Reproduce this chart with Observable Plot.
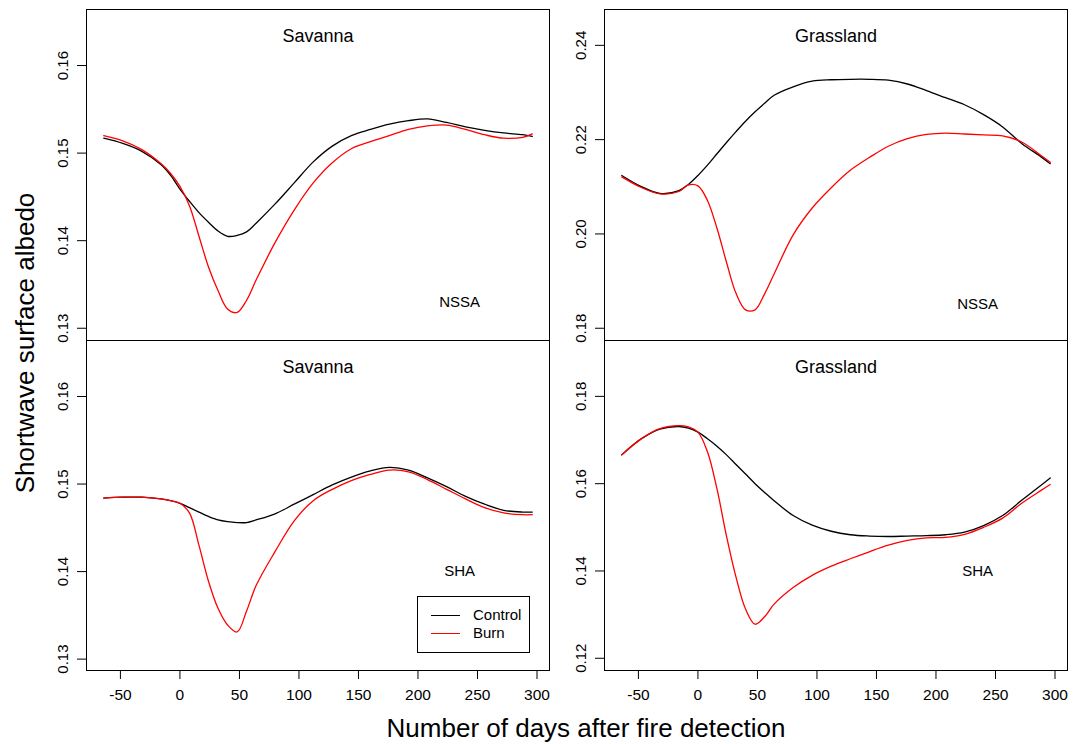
<!DOCTYPE html>
<html>
<head>
<meta charset="utf-8">
<script src="https://cdn.jsdelivr.net/npm/d3@7"></script>
<script src="https://cdn.jsdelivr.net/npm/@observablehq/plot@0.6"></script>
<style>
  html, body { margin: 0; padding: 0; background: white; }
  #wrap { position: relative; width: 1078px; height: 744px; font-family: "Liberation Sans", Arial, Helvetica, sans-serif; color: black; overflow: hidden; }
  .panel { position: absolute; }
  .abs { position: absolute; white-space: nowrap; }
</style>
</head>
<body>
<div id="wrap"></div>
<script>
// Days after fire detection (shared x values)
const days = [-64,-48,-32,-16,-8,0,8,16,24,32,40,48,56,64,80,96,112,128,144,160,176,192,208,224,240,256,272,288,296];

// Savanna, NSSA
const savNssaControl = [0.1517,0.1511,0.1502,0.1487,0.1475,0.1459,0.1445,0.1432,0.1421,0.1411,0.1405,0.1406,0.1410,0.1420,0.1442,0.1466,0.1490,0.1508,0.1520,0.1527,0.1533,0.1537,0.1539,0.1535,0.1530,0.1526,0.1523,0.1521,0.1519];
const savNssaBurn    = [0.1520,0.1514,0.1504,0.1488,0.1477,0.1462,0.1440,0.1405,0.1370,0.1343,0.1322,0.1318,0.1332,0.1355,0.1398,0.1435,0.1466,0.1489,0.1505,0.1513,0.1520,0.1527,0.1531,0.1532,0.1527,0.1521,0.1517,0.1518,0.1522];

// Grassland, NSSA
const grsNssaControl = [0.2124,0.2101,0.2086,0.2092,0.2105,0.2124,0.2146,0.2170,0.2194,0.2217,0.2239,0.2259,0.2277,0.2294,0.2312,0.2324,0.2327,0.2328,0.2328,0.2326,0.2318,0.2304,0.2289,0.2274,0.2253,0.2227,0.2192,0.2164,0.2149];
const grsNssaBurn    = [0.2121,0.2099,0.2085,0.2090,0.2104,0.2102,0.2071,0.2012,0.1940,0.1874,0.1839,0.1839,0.1873,0.1915,0.1998,0.2055,0.2098,0.2135,0.2162,0.2186,0.2202,0.2211,0.2214,0.2212,0.2210,0.2208,0.2195,0.2167,0.2152];

// Savanna, SHA
const savShaControl = [0.1484,0.1485,0.1485,0.1483,0.1481,0.1478,0.1473,0.1468,0.1463,0.1459,0.1457,0.1456,0.1456,0.1459,0.1466,0.1477,0.1488,0.1499,0.1508,0.1515,0.1519,0.1516,0.1507,0.1497,0.1486,0.1477,0.1470,0.1468,0.1468];
const savShaBurn    = [0.1484,0.1485,0.1485,0.1483,0.1481,0.1478,0.1467,0.1430,0.1389,0.1358,0.1339,0.1331,0.1355,0.1384,0.1423,0.1458,0.1481,0.1494,0.1504,0.1511,0.1516,0.1514,0.1505,0.1494,0.1483,0.1473,0.1467,0.1465,0.1465];

// Grassland, SHA
const grsShaControl = [0.1666,0.1702,0.1725,0.1731,0.1727,0.1718,0.1703,0.1686,0.1666,0.1644,0.1622,0.1600,0.1580,0.1561,0.1527,0.1505,0.1491,0.1483,0.1480,0.1479,0.1480,0.1481,0.1483,0.1489,0.1504,0.1527,0.1562,0.1596,0.1613];
const grsShaBurn    = [0.1666,0.1702,0.1726,0.1733,0.1730,0.1718,0.1673,0.1588,0.1480,0.1386,0.1313,0.1278,0.1295,0.1324,0.1362,0.1390,0.1411,0.1428,0.1444,0.1459,0.1470,0.1476,0.1477,0.1484,0.1500,0.1521,0.1555,0.1584,0.1598];

// Tick values / labels
const xTicks = [-50,0,50,100,150,200,250,300];
const xTickLabels = ["-50","0","50","100","150","200","250","300"];
const savYTicks = [0.13,0.14,0.15,0.16];
const savYLabels = ["0.13","0.14","0.15","0.16"];
const grsNssaYTicks = [0.18,0.20,0.22,0.24];
const grsNssaYLabels = ["0.18","0.20","0.22","0.24"];
const grsShaYTicks = [0.12,0.14,0.16,0.18];
const grsShaYLabels = ["0.12","0.14","0.16","0.18"];

const panelTitles = ["Savanna","Grassland","Savanna","Grassland"];
const regionLabels = ["NSSA","NSSA","SHA","SHA"];
const seriesNames = ["Control","Burn"];
const seriesColors = ["#000000","#FF0000"];

const FONT = '"Liberation Sans", Arial, Helvetica, sans-serif';
const wrap = document.getElementById("wrap");

function panel(o) {
  const marks = [
    Plot.frame({stroke: "black", strokeWidth: 1}),
    Plot.line(days, {x: d => d, y: (d, i) => o.control[i], stroke: seriesColors[0], strokeWidth: 1.3, curve: "catmull-rom"}),
    Plot.line(days, {x: d => d, y: (d, i) => o.burn[i], stroke: seriesColors[1], strokeWidth: 1.3, curve: "catmull-rom"}),
    Plot.axisY({ticks: o.yTicks, tickSize: 9, tickFormat: () => "", label: null, stroke: "black"}),
    Plot.text(o.yTicks, {y: d => d, text: (d, i) => o.yLabels[i], frameAnchor: "left", dx: -23, rotate: -90, textAnchor: "middle", lineAnchor: "middle", fontSize: 15, fill: "black"}),
    Plot.text([o.title], {frameAnchor: "top", dy: 27, lineAnchor: "middle", fontSize: 18, fill: "black"}),
    Plot.text([o.region], {x: () => 235, y: () => o.regionY, lineAnchor: "middle", fontSize: 15, fill: "black"})
  ];
  if (o.showX) {
    marks.push(Plot.axisX({ticks: xTicks, tickSize: 9, tickFormat: () => "", label: null, stroke: "black"}));
    marks.push(Plot.text(xTicks, {x: d => d, text: (d, i) => xTickLabels[i], frameAnchor: "bottom", dy: 25, lineAnchor: "middle", fontSize: 15.5, fill: "black"}));
  }
  const chart = Plot.plot({
    width: o.w, height: o.h,
    marginLeft: o.mL, marginRight: o.mR, marginTop: o.mT, marginBottom: o.mB,
    style: {background: "transparent", overflow: "visible", fontFamily: FONT},
    x: {domain: [-78.5, 310.5], axis: o.showX ? undefined : null},
    y: {domain: o.yDomain},
    marks
  });
  chart.classList.add("panel");
  chart.style.left = o.left + "px";
  chart.style.top = o.top + "px";
  chart.style.position = "absolute";
  wrap.appendChild(chart);
}

panel({control: savNssaControl, burn: savNssaBurn, yDomain: [0.1286, 0.1664], yTicks: savYTicks, yLabels: savYLabels,
  title: panelTitles[0], region: regionLabels[0], regionY: 0.133, showX: false,
  left: 0, top: 0, w: 560, h: 345, mL: 86, mR: 11, mT: 9, mB: 5});
panel({control: grsNssaControl, burn: grsNssaBurn, yDomain: [0.1774, 0.2476], yTicks: grsNssaYTicks, yLabels: grsNssaYLabels,
  title: panelTitles[1], region: regionLabels[1], regionY: 0.185, showX: false,
  left: 560, top: 0, w: 518, h: 345, mL: 44, mR: 11, mT: 9, mB: 5});
panel({control: savShaControl, burn: savShaBurn, yDomain: [0.1287, 0.1664], yTicks: savYTicks, yLabels: savYLabels,
  title: panelTitles[2], region: regionLabels[2], regionY: 0.140, showX: true,
  left: 0, top: 335, w: 560, h: 375, mL: 86, mR: 11, mT: 5, mB: 40});
panel({control: grsShaControl, burn: grsShaBurn, yDomain: [0.1172, 0.1928], yTicks: grsShaYTicks, yLabels: grsShaYLabels,
  title: panelTitles[3], region: regionLabels[3], regionY: 0.140, showX: true,
  left: 560, top: 335, w: 518, h: 375, mL: 44, mR: 11, mT: 5, mB: 40});

// Legend (inside lower-left panel)
const legend = document.createElement("div");
legend.className = "abs";
legend.style.cssText = "position:absolute;left:417px;top:596px;width:111px;height:55px;border:1px solid black;background:white;";
seriesNames.forEach((name, i) => {
  const ln = document.createElement("div");
  ln.style.cssText = `position:absolute;left:13px;top:${18 + i * 18}px;width:29px;height:0;border-top:1.3px solid ${seriesColors[i]};`;
  legend.appendChild(ln);
  const tx = document.createElement("div");
  tx.textContent = name;
  tx.style.cssText = `position:absolute;left:55px;top:${9 + i * 18}px;font-size:15px;line-height:18px;`;
  legend.appendChild(tx);
});
wrap.appendChild(legend);

// Axis titles
const xt = document.createElement("div");
xt.className = "abs";
xt.textContent = "Number of days after fire detection";
xt.style.cssText = "position:absolute;left:586px;top:715px;font-size:26px;line-height:26px;transform:translateX(-50%);";
wrap.appendChild(xt);

const yt = document.createElement("div");
yt.className = "abs";
yt.textContent = "Shortwave surface albedo";
yt.style.cssText = "position:absolute;left:25px;top:343px;font-size:26px;line-height:26px;transform:translate(-50%,-50%) rotate(-90deg);";
wrap.appendChild(yt);
</script>
</body>
</html>
